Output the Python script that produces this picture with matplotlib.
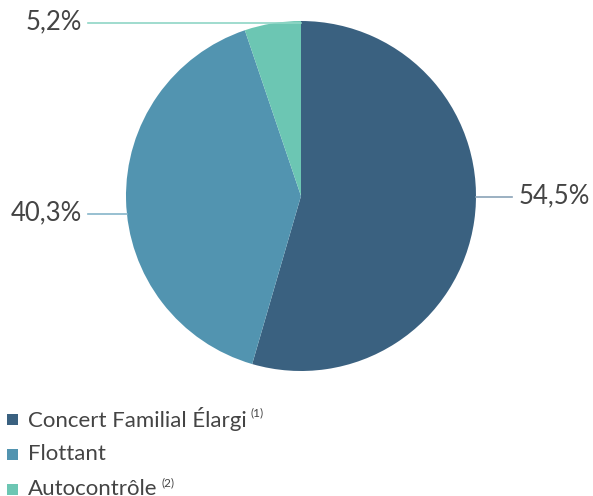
import numpy as np
import matplotlib
matplotlib.use("Agg")
import matplotlib.pyplot as plt

# données
categories = ["Concert Familial Élargi", "Flottant", "Autocontrôle"]
notes = ["(1)", "", "(2)"]
valeurs = [54.5, 40.3, 5.2]
etiquettes = ["54,5%", "40,3%", "5,2%"]
couleurs = ["#3a6180", "#5294b0", "#6cc6b3"]
couleurs_lignes = ["#8aa3b8", "#86b5c9", "#8fd6c6"]

W, H = 593, 496
plt.rcParams['font.family'] = ['Lato', 'DejaVu Sans']
fig = plt.figure(figsize=(W / 100, H / 100), dpi=100)
ax = fig.add_axes([0, 0, 1, 1])

cx, cy, r = 301, H - 196, 175
ax.pie(valeurs, colors=couleurs, startangle=90, counterclock=False,
       center=(cx, cy), radius=r, frame=True,
       wedgeprops=dict(linewidth=0))
ax.set_xlim(0, W)
ax.set_ylim(0, H)
ax.set_aspect('equal')
ax.axis('off')

gris = "#444444"
# lignes de rappel (y en pixels depuis le haut)
rappels = [(197, 'droite'), (214, 'gauche'), (23, 'gauche')]
for i, (yp, cote) in enumerate(rappels):
    y = H - yp
    dy = y - cy
    dx = np.sqrt(max(r**2 - dy**2, 0))
    if i == 2:
        xe = cx
    elif cote == 'droite':
        xe = cx + dx
    else:
        xe = cx - dx
    if cote == 'droite':
        ax.plot([xe, 512], [y, y], color=couleurs_lignes[i], lw=1.2)
        ax.text(519, y + 1, etiquettes[i], fontsize=18.5, color=gris,
                ha='left', va='center')
    else:
        ax.plot([88, xe], [y, y], color=couleurs_lignes[i], lw=1.2)
        ax.text(82, y + 1, etiquettes[i], fontsize=18.5, color=gris,
                ha='right', va='center')

# légende
fig.canvas.draw()
rend = fig.canvas.get_renderer()
for i, nom in enumerate(categories):
    yc = H - (419 + 35 * i)
    ax.add_patch(plt.Rectangle((7, yc - 5.5), 11, 11, color=couleurs[i], lw=0))
    t = ax.text(28, yc, nom, fontsize=16, color=gris, ha='left', va='center')
    if notes[i]:
        bb = t.get_window_extent(renderer=rend)
        x1 = ax.transData.inverted().transform((bb.x1, bb.y1))[0]
        ax.text(x1 + 4, yc + 6, notes[i], fontsize=8.5, color=gris,
                ha='left', va='center')

fig.savefig("out.png", dpi=100)
